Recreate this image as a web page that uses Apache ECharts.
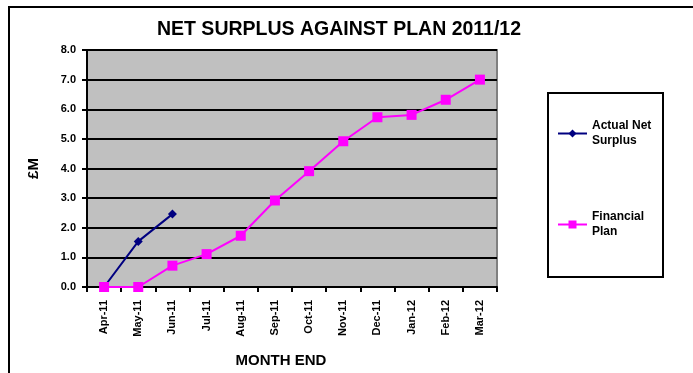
<!DOCTYPE html>
<html>
<head>
<meta charset="utf-8">
<script src="https://cdn.jsdelivr.net/npm/echarts@6/dist/echarts.min.js"></script>
<style>html,body{margin:0;padding:0;background:#fff;}#c{width:693px;height:373px;}</style>
</head>
<body>
<div id="c"></div>
<script>
const titleText = 'NET SURPLUS AGAINST PLAN 2011/12';
const months = ['Apr-11','May-11','Jun-11','Jul-11','Aug-11','Sep-11','Oct-11','Nov-11','Dec-11','Jan-12','Feb-12','Mar-12'];
const actualName = 'Actual Net\nSurplus';
const planName = 'Financial\nPlan';
const actualValues = [0, 1.54, 2.46];
const planValues = [0, 0, 0.72, 1.11, 1.73, 2.92, 3.91, 4.92, 5.73, 5.81, 6.32, 7.0];
const yMin = 0, yMax = 8, yStep = 1;

const FONT = 'Liberation Sans, Arial, sans-serif';
const chart = echarts.init(document.getElementById('c'), null, {renderer: 'canvas'});
chart.setOption({
  animation: false,
  backgroundColor: '#ffffff',
  title: {
    text: titleText, left: 334, top: 15, textAlign: 'center',
    textStyle: {fontFamily: FONT, fontWeight: 'bold', fontSize: 19.5, color: '#000'}
  },
  graphic: [
    {type: 'rect', z: -10, shape: {x: 9, y: 7, width: 800, height: 500}, style: {fill: 'none', stroke: '#000', lineWidth: 2}},
    {type: 'rect', z: 5, shape: {x: 548, y: 93, width: 115, height: 184}, style: {fill: '#fff', stroke: '#000', lineWidth: 2}}
  ],
  legend: {
    orient: 'vertical', left: 552, top: 106, padding: 5, z: 10,
    itemWidth: 29, itemHeight: 10, itemGap: 46,
    textStyle: {fontFamily: FONT, fontWeight: 'bold', fontSize: 12, color: '#000', lineHeight: 15, padding: [15, 0, 0, 0]},
    data: [actualName, planName]
  },
  grid: {
    left: 87, top: 50, right: 196, bottom: 86,
    show: true, backgroundColor: '#C0C0C0', borderColor: '#808080', borderWidth: 2
  },
  xAxis: {
    type: 'category', data: months, boundaryGap: true,
    name: 'MONTH END', nameLocation: 'middle', nameGap: 66,
    nameTextStyle: {fontFamily: FONT, fontWeight: 'bold', fontSize: 15, color: '#000', padding: [0, 22, 0, 0]},
    axisLine: {lineStyle: {color: '#000', width: 2}},
    axisTick: {show: true, length: 5, lineStyle: {color: '#000', width: 2}},
    axisLabel: {rotate: 90, margin: 13, interval: 0, fontFamily: FONT, fontWeight: 'bold', fontSize: 11, color: '#000'},
    splitLine: {show: false}
  },
  yAxis: {
    type: 'value', min: yMin, max: yMax, interval: yStep,
    name: '£M', nameLocation: 'middle', nameGap: 46, nameRotate: 90,
    nameTextStyle: {fontFamily: FONT, fontWeight: 'bold', fontSize: 15, color: '#000'},
    axisLine: {show: true, lineStyle: {color: '#000', width: 2}},
    axisTick: {show: true, length: 5, lineStyle: {color: '#000', width: 2}},
    axisLabel: {margin: 11, fontFamily: FONT, fontWeight: 'bold', fontSize: 11, color: '#000', formatter: v => v.toFixed(1)},
    splitLine: {show: true, lineStyle: {color: '#000', width: 2}}
  },
  series: [
    {
      name: actualName, type: 'line', data: actualValues,
      symbol: 'diamond', symbolSize: 9, showSymbol: true,
      itemStyle: {color: '#000080'}, lineStyle: {color: '#000080', width: 2}
    },
    {
      name: planName, type: 'line', data: planValues,
      symbol: 'rect', symbolSize: 10, showSymbol: true,
      itemStyle: {color: '#FF00FF'}, lineStyle: {color: '#FF00FF', width: 2}
    }
  ]
});
</script>
</body>
</html>
